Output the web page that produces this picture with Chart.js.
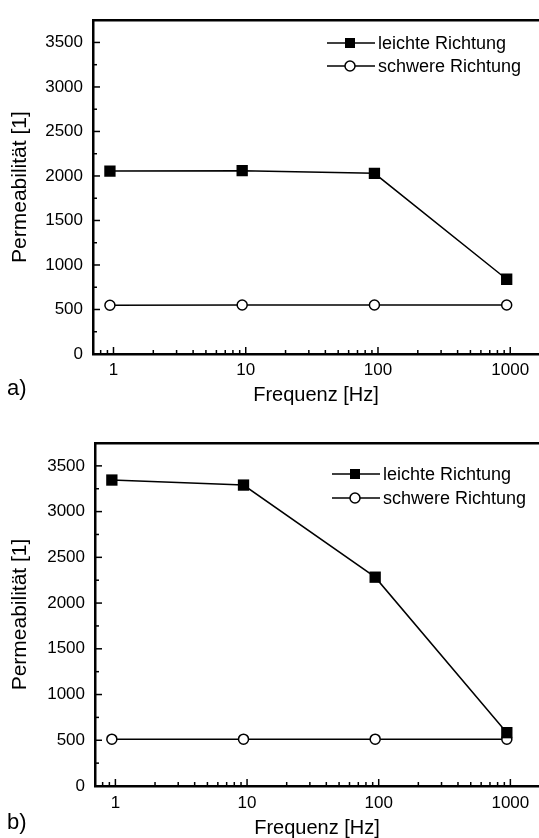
<!DOCTYPE html>
<html>
<head>
<meta charset="utf-8">
<script src="https://cdn.jsdelivr.net/npm/chart.js@4.4.0/dist/chart.umd.min.js"></script>
<style>
  html, body { margin: 0; padding: 0; background: #fff; overflow: hidden; width: 539px; height: 838px; }
  .panel { position: absolute; left: 0; width: 539px; }
  #boxA { top: 0; height: 410px; }
  #boxB { top: 420px; height: 420px; }
  .tag { position: absolute; left: 7px; font: 22px 'Liberation Sans', Arial, sans-serif; color: #000; line-height: 1; }
</style>
</head>
<body>
<div id="boxA" class="panel"><canvas id="chartA" width="539" height="410"></canvas></div>
<div id="boxB" class="panel"><canvas id="chartB" width="539" height="420"></canvas></div>
<div class="tag" style="top:377px">a)</div>
<div class="tag" style="top:811px">b)</div>
<script>
// measured frequencies (markers sit a bit left of the decade ticks)
var freqs = [0.94, 9.4, 94, 940];
var seriesNames = ['leichte Richtung', 'schwere Richtung'];

// panel a)
var leichtA = [2055, 2060, 2030, 840];
var schwerA = [548, 550, 550, 550];

// panel b)
var leichtB = [3345, 3290, 2283, 583];
var schwerB = [512, 512, 512, 512];

var xTickLabels = [1, 10, 100, 1000];
var yTickLabels = [0, 500, 1000, 1500, 2000, 2500, 3000, 3500];

var FONT = "'Liberation Sans', Arial, sans-serif";

// minor ticks for the log axis and the linear axis
var xMinor = [];
[0.1, 1, 10, 100].forEach(function (d) {
  for (var m = 2; m <= 9; m++) xMinor.push(d * m);
});
var yMinor = yTickLabels.map(function (v) { return v + 250; });

// ticks pointing into the plot, as in the original figure
var innerTicks = {
  id: 'innerTicks',
  afterDraw: function (chart) {
    var ctx = chart.ctx, a = chart.chartArea;
    var xs = chart.scales.x, ys = chart.scales.y;
    ctx.save();
    ctx.strokeStyle = '#000';
    ctx.lineWidth = 1.5;
    function seg(x1, y1, x2, y2) { ctx.beginPath(); ctx.moveTo(x1, y1); ctx.lineTo(x2, y2); ctx.stroke(); }
    xTickLabels.forEach(function (v) { var p = xs.getPixelForValue(v); seg(p, a.bottom, p, a.bottom - 7); });
    xMinor.forEach(function (v) {
      if (v < xs.min || v > xs.max) return;
      var p = xs.getPixelForValue(v); seg(p, a.bottom, p, a.bottom - 4);
    });
    yTickLabels.forEach(function (v) { var p = ys.getPixelForValue(v); seg(a.left, p, a.left + 7, p); });
    yMinor.forEach(function (v) {
      if (v > ys.max) return;
      var p = ys.getPixelForValue(v); seg(a.left, p, a.left + 4, p);
    });
    ctx.restore();
  }
};

// legend inside the plot area: line, marker, text
var boxLegend = {
  id: 'boxLegend',
  afterDraw: function (chart, args, opts) {
    var ctx = chart.ctx;
    ctx.save();
    ctx.font = '18px ' + FONT;
    ctx.textBaseline = 'middle';
    ctx.fillStyle = '#000';
    chart.data.datasets.forEach(function (ds, i) {
      var y = opts.y + i * opts.gap;
      var x = opts.x;
      ctx.strokeStyle = '#000';
      ctx.lineWidth = 1.5;
      ctx.beginPath(); ctx.moveTo(x, y); ctx.lineTo(x + 48, y); ctx.stroke();
      var cx = x + 23;
      if (ds.pointStyle === 'rect') {
        ctx.fillRect(cx - 5, y - 5, 10, 10);
      } else {
        ctx.beginPath(); ctx.arc(cx, y, 5, 0, Math.PI * 2);
        ctx.fillStyle = '#fff'; ctx.fill();
        ctx.stroke();
        ctx.fillStyle = '#000';
      }
      ctx.fillText(ds.label, x + 51, y + 1);
    });
    ctx.restore();
  }
};

function pts(ys) {
  return freqs.map(function (f, i) { return { x: f, y: ys[i] }; });
}

function makeChart(id, leicht, schwer, lay) {
  var ctx = document.getElementById(id).getContext('2d');
  return new Chart(ctx, {
    type: 'line',
    data: {
      datasets: [{
        label: seriesNames[0],
        data: pts(leicht),
        borderColor: '#000',
        borderWidth: 1.5,
        pointStyle: 'rect',
        pointRadius: 8,
        pointBackgroundColor: '#000',
        pointBorderColor: '#000',
        pointBorderWidth: 0,
        tension: 0
      }, {
        label: seriesNames[1],
        data: pts(schwer),
        borderColor: '#000',
        borderWidth: 1.5,
        pointStyle: 'circle',
        pointRadius: 5,
        pointBackgroundColor: '#fff',
        pointBorderColor: '#000',
        pointBorderWidth: 1.5,
        tension: 0
      }]
    },
    options: {
      responsive: false,
      animation: false,
      events: [],
      layout: { padding: 0, autoPadding: false },
      plugins: {
        legend: { display: false },
        tooltip: { enabled: false },
        boxLegend: { x: lay.legX, y: lay.legY, gap: lay.legGap }
      },
      scales: {
        x: {
          type: 'logarithmic',
          position: 'bottom',
          min: 0.7,
          max: 1650,
          afterBuildTicks: function (s) { s.ticks = xTickLabels.map(function (v) { return { value: v }; }); },
          afterFit: function (s) {
            s.height = lay.height - lay.bottom;
            s.paddingLeft = 0;
            s.paddingRight = 0;
          },
          ticks: {
            color: '#000',
            padding: lay.xPad,
            font: { family: FONT, size: 17 },
            callback: function (v) { return String(v); }
          },
          grid: { display: true, drawOnChartArea: false, drawTicks: false },
          border: { display: true, color: '#000', width: 2.5 },
          title: {
            display: true,
            text: 'Frequenz [Hz]',
            color: '#000',
            font: { family: FONT, size: 20 },
            padding: { top: 0, bottom: lay.titlePad }
          }
        },
        x2: {
          type: 'linear',
          position: 'top',
          min: 0,
          max: 1,
          afterFit: function (s) {
            s.height = lay.top;
            s.paddingLeft = 0;
            s.paddingRight = 0;
          },
          ticks: { display: false },
          grid: { display: true, drawOnChartArea: false, drawTicks: false },
          border: { display: true, color: '#000', width: 2.5 }
        },
        y: {
          type: 'linear',
          min: 0,
          max: 3750,
          afterBuildTicks: function (s) { s.ticks = yTickLabels.map(function (v) { return { value: v }; }); },
          afterFit: function (s) { s.width = lay.left; },
          ticks: {
            color: '#000',
            padding: 10,
            font: { family: FONT, size: 17 },
            callback: function (v) { return String(v); }
          },
          grid: { display: true, drawOnChartArea: false, drawTicks: false },
          border: { display: true, color: '#000', width: 2.5 },
          title: {
            display: true,
            text: 'Permeabilität [1]',
            color: '#000',
            font: { family: FONT, size: 21 },
            padding: { top: 8, bottom: 0 }
          }
        }
      }
    },
    plugins: [innerTicks, boxLegend]
  });
}

var chartA = makeChart('chartA', leichtA, schwerA, {
  left: 93, top: 14, bottom: 354, height: 410,
  xPad: 6, titlePad: 3,
  legX: 327, legY: 43, legGap: 23
});

var chartB = makeChart('chartB', leichtB, schwerB, {
  left: 95, top: 23, bottom: 366, height: 420,
  xPad: 7, titlePad: 0,
  legX: 332, legY: 54, legGap: 24
});
</script>
</body>
</html>
